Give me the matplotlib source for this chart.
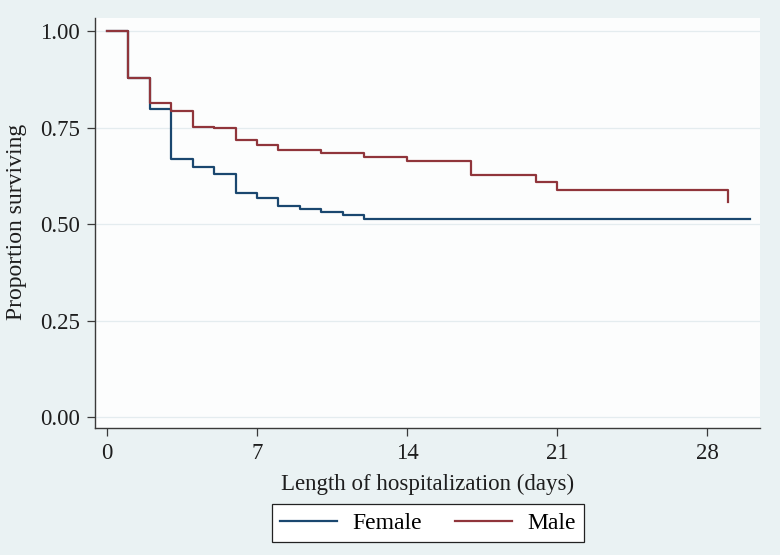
import matplotlib
matplotlib.use("Agg")
import matplotlib.pyplot as plt
from matplotlib.lines import Line2D

# Data (Kaplan-Meier step curves)
times_female = [0, 1, 2, 3, 4, 5, 6, 7, 8, 9, 10, 11, 12, 30]
surv_female = [1.0, 0.879, 0.797, 0.668, 0.648, 0.631, 0.580, 0.568, 0.547,
               0.540, 0.532, 0.523, 0.514, 0.514]
times_male = [0, 1, 2, 3, 4, 5, 6, 7, 8, 10, 12, 14, 17, 20, 21, 29, 29]
surv_male = [1.0, 0.879, 0.813, 0.792, 0.752, 0.749, 0.719, 0.706, 0.692,
             0.684, 0.674, 0.663, 0.627, 0.609, 0.588, 0.588, 0.557]
x_ticks = [0, 7, 14, 21, 28]
y_ticks = [0.0, 0.25, 0.5, 0.75, 1.0]
y_ticklabels = ["0.00", "0.25", "0.50", "0.75", "1.00"]
series_labels = ["Female", "Male"]

navy = "#1A476F"
maroon = "#90353B"
bg = "#EAF2F3"
txt = "#1e1e1e"
FS = 16.5

plt.rcParams['font.family'] = ['Liberation Serif', 'DejaVu Serif']

fig = plt.figure(figsize=(7.8, 5.55), dpi=100, facecolor=bg)
ax = fig.add_axes([95/780, 1-428/555, (760-95)/780, (428-18)/555])
ax.set_facecolor("#FCFDFD")

ax.step(times_female, surv_female, where='post', color=navy, lw=1.6, zorder=3)
ax.step(times_male, surv_male, where='post', color=maroon, lw=1.6, zorder=4)

ax.set_xlim(-0.56, 30.47)
ax.set_ylim(-0.028, 1.034)
ax.set_xticks(x_ticks)
ax.set_yticks(y_ticks)
ax.set_yticklabels(y_ticklabels)
ax.yaxis.grid(True, color="#E4ECEF", lw=0.9, zorder=0)
ax.set_axisbelow(True)

for s in ["top", "right"]:
    ax.spines[s].set_visible(False)
for s in ["left", "bottom"]:
    ax.spines[s].set_color("#3a3a3a")
    ax.spines[s].set_linewidth(1.0)
ax.tick_params(axis='both', direction='out', length=6, width=0.9,
               color="#3a3a3a", labelsize=FS, labelcolor=txt)
ax.tick_params(axis='x', pad=5)
ax.tick_params(axis='y', pad=5)

ax.set_xlabel("Length of hospitalization (days)", fontsize=FS, color=txt)
ax.set_ylabel("Proportion surviving", fontsize=FS + 0.5, color=txt)
ax.xaxis.label.set_va('center')
ax.yaxis.label.set_va('center')
ax.xaxis.set_label_coords(0.5, -(484-428)/410)
ax.yaxis.set_label_coords((17-95)/665, 0.5 - (222-223)/410)

handles = [Line2D([], [], color=navy, lw=1.6), Line2D([], [], color=maroon, lw=1.6)]
leg = fig.legend(handles, series_labels, loc='center', ncol=2,
                 bbox_to_anchor=(428/780, 1-523/555), fontsize=FS + 0.5, frameon=True,
                 fancybox=False, edgecolor="#222222", facecolor="white",
                 handlelength=2.4, columnspacing=1.4, handletextpad=0.65,
                 borderpad=0.35, borderaxespad=0)
leg.get_frame().set_linewidth(0.9)
leg.get_frame().set_alpha(1)

fig.savefig("out.png", dpi=100, facecolor=bg)
